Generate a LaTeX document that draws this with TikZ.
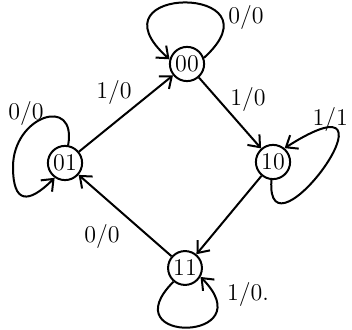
\documentclass[tikz,border=0pt]{standalone}
\usetikzlibrary{arrows.meta}
\begin{document}
\begin{tikzpicture}[x=0.5pt, y=0.5pt, line width=1pt,
    >={Straight Barb[length=5pt,width=8pt]},
    state/.style={draw, circle, minimum size=14pt, inner sep=1pt, font=\large},
    lab/.style={font=\large, inner sep=1pt}]
    \useasboundingbox (0,0) rectangle (352,330);
    \node[state] (s00) at (187,266) {00};
    \node[state] (s01) at (65,167) {01};
    \node[state] (s10) at (273,168) {10};
    \node[state] (s11) at (185,62) {11};
    \coordinate (w01) at (13,163);
    % transitions
    \draw[->] (s01) -- (s00);
    \draw[->] (s00) -- (s10);
    \draw[->] (s10) -- (s11);
    \draw[->] (s11) -- (s01);
    \node[lab] (l01) at (114,237) {1/0};
    \node[lab] (l02) at (248,230) {1/0};
    \node[lab] (l03) at (102,93) {0/0};
    % self loops
    \draw[->] (s00.20) .. controls (285,346) and (85,346) .. (s00.165);
    \draw[->] (s01.80) to[out=80, in=90, looseness=2.2] (w01)
        to[out=270, in=225, looseness=2.2] (s01.235);
    \draw[->] (s10.265) .. controls (265,60) and (415,265) .. (s10.50);
    \draw[->] (s11.230) .. controls (110,-15) and (265,-12) .. (s11.330);
    \node[lab] (m00) at (246,312) {0/0};
    \node[lab] (m01) at (26,216) {0/0};
    \node[lab, anchor=east] (m10) at (351,210) {1/1};
    \node[lab] (m11) at (248,35) {1/0.};
\end{tikzpicture}
\end{document}
